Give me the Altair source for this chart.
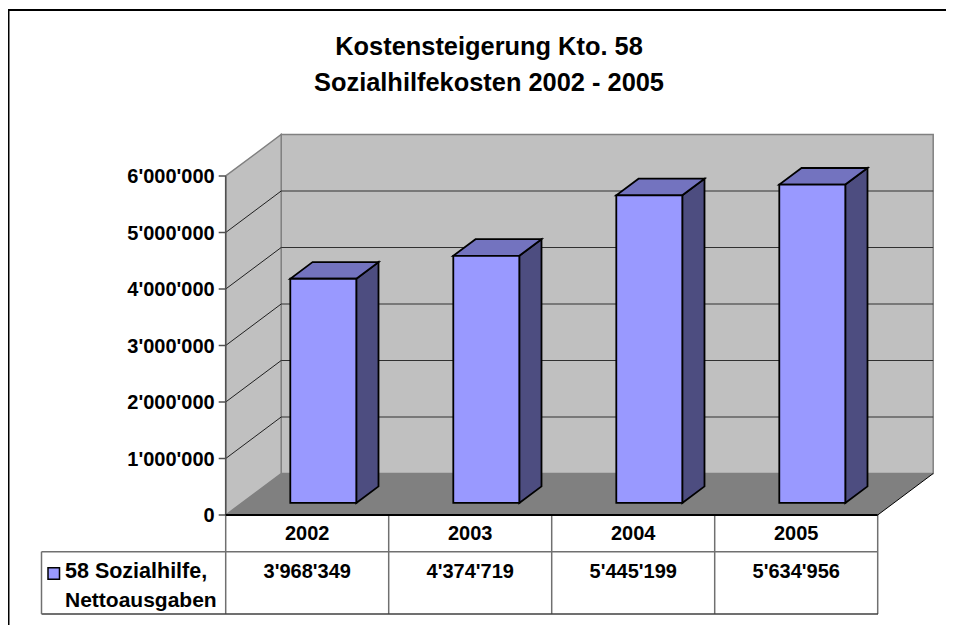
import altair as alt
import pandas as pd

YEARS = ["2002", "2003", "2004", "2005"]
VALUES = [3968349, 4374719, 5445199, 5634956]
VALUE_LABELS = ["3'968'349", "4'374'719", "5'445'199", "5'634'956"]
TICKS = [0, 1000000, 2000000, 3000000, 4000000, 5000000, 6000000]
TICK_LABELS = ["0", "1'000'000", "2'000'000", "3'000'000", "4'000'000", "5'000'000", "6'000'000"]
TITLE_LINES = ["Kostensteigerung Kto. 58", "Sozialhilfekosten 2002 - 2005"]
LEGEND_LINES = ["58 Sozialhilfe,", "Nettoausgaben"]

W, H = 938, 617
X0, CAT = 217.7, 163.0
Y0, MIL = 507.0, 56.5
DX = 55.5 / CAT
DY = 41.5 / MIL * 1e6
BAR_W = 66.0 / CAT
BAR_OFF = 0.29
BAR_D = 0.40
YMAX = TICKS[-1]
N = len(YEARS)

xs = alt.Scale(domain=[-X0 / CAT, (W - X0) / CAT], nice=False, zero=False)
ys = alt.Scale(domain=[(Y0 - H) / MIL * 1e6, Y0 / MIL * 1e6], nice=False, zero=False)
X = lambda f="x": alt.X(f"{f}:Q", scale=xs, axis=None)
Y = lambda f="y": alt.Y(f"{f}:Q", scale=ys, axis=None, stack=None)
XH = lambda f="x": alt.X(f"{f}:Q", scale=xs, axis=None, stack=None)
YH = lambda f="y": alt.Y(f"{f}:Q", scale=ys, axis=None)
px = lambda v: alt.value(v - 8)

FONT = "Liberation Sans"
WALL, FLOOR, EDGE = "#C0C0C0", "#808080", "#808080"
FRONT, TOP, SIDE = "#9999FF", "#7373BF", "#4D4D80"

# frame
frame = alt.Chart(pd.DataFrame({"k": [0]}))
frame_top = frame.mark_rule(color="black", strokeWidth=2).encode(x=px(8), x2=px(954), y=px(10))
frame_left = frame.mark_rule(color="black", strokeWidth=3).encode(x=alt.value(0), y=px(9), y2=px(625))

# walls and floor
back = alt.Chart(pd.DataFrame({"x": [DX], "x2": [N + DX], "y": [DY], "y2": [YMAX + DY]})).mark_rect(
    fill=WALL, stroke=EDGE, strokeWidth=1.5
).encode(x=X(), x2="x2:Q", y=Y(), y2="y2:Q")
left = alt.Chart(pd.DataFrame({"x": [0, DX], "y": [0, DY], "y2": [YMAX, YMAX + DY]})).mark_area(
    fill=WALL, stroke=EDGE, strokeWidth=1.5
).encode(x=X(), y=Y(), y2="y2:Q")
floor = alt.Chart(pd.DataFrame({"y": [0, DY], "x": [0, DX], "x2": [N, N + DX]})).mark_area(
    orient="horizontal", fill=FLOOR
).encode(y=YH(), x=XH(), x2="x2:Q")

grid_df = pd.DataFrame({"t": TICKS[1:-1]})
grid_df["y"] = grid_df["t"] + DY
grid_df["x"] = DX
grid_df["x2"] = N + DX
grid_back = alt.Chart(grid_df).mark_rule(color="#303030", strokeWidth=1).encode(x=X(), x2="x2:Q", y=Y())
diag_df = pd.DataFrame({"x": 0.0, "x2": DX, "y": TICKS[1:-1], "y2": [t + DY for t in TICKS[1:-1]]})
grid_left = alt.Chart(diag_df).mark_rule(color="#202020", strokeWidth=1).encode(x=X(), x2="x2:Q", y=Y(), y2="y2:Q")

floor_edge = alt.Chart(pd.DataFrame({"x": [N], "x2": [N + DX], "y": [0], "y2": [DY]})).mark_rule(
    color="black", strokeWidth=1
).encode(x=X(), x2="x2:Q", y=Y(), y2="y2:Q")
front_line = alt.Chart(pd.DataFrame({"x": [0], "x2": [N], "y": [0]})).mark_rule(
    color="black", strokeWidth=2
).encode(x=X(), x2="x2:Q", y=Y())

# axis
axis_line = alt.Chart(pd.DataFrame({"x": [0], "y": [0], "y2": [YMAX]})).mark_rule(
    color="#505050", strokeWidth=1.5
).encode(x=X(), y=Y(), y2="y2:Q")
tick_df = pd.DataFrame({"y": TICKS, "label": TICK_LABELS, "x": 0.0})
ticks = alt.Chart(tick_df).mark_rule(color="#505050", strokeWidth=1.5).encode(
    x=alt.value(X0 - 7), x2=alt.value(X0), y=Y()
)
tick_text = alt.Chart(tick_df).mark_text(
    font=FONT, fontWeight="bold", fontSize=20, align="right", baseline="middle", color="black", dy=1
).encode(x=alt.value(X0 - 11), y=Y(), text="label:N")

# bars
rows_f, rows_s, rows_t = [], [], []
for i, (yr, v) in enumerate(zip(YEARS, VALUES)):
    x0 = i + (1 - BAR_W) / 2 + BAR_OFF * DX
    x1 = x0 + BAR_W
    b = BAR_OFF * DY
    d_x, d_y = BAR_D * DX, BAR_D * DY
    rows_f.append({"year": yr, "x": x0, "x2": x1, "y": b, "y2": b + v})
    rows_s += [
        {"year": yr, "x": x1, "y": b, "y2": b + v},
        {"year": yr, "x": x1 + d_x, "y": b + d_y, "y2": b + v + d_y},
    ]
    rows_t += [
        {"year": yr, "y": b + v, "x": x0, "x2": x1},
        {"year": yr, "y": b + v + d_y, "x": x0 + d_x, "x2": x1 + d_x},
    ]
bar_side = alt.Chart(pd.DataFrame(rows_s)).mark_area(
    fill=SIDE, stroke="black", strokeWidth=1.8
).encode(x=X(), y=Y(), y2="y2:Q", detail="year:N")
bar_top = alt.Chart(pd.DataFrame(rows_t)).mark_area(
    orient="horizontal", fill=TOP, stroke="black", strokeWidth=1.8
).encode(y=YH(), x=XH(), x2="x2:Q", detail="year:N")
bar_front = alt.Chart(pd.DataFrame(rows_f)).mark_rect(
    fill=FRONT, stroke="black", strokeWidth=1.8
).encode(x=X(), x2="x2:Q", y=Y(), y2="y2:Q")

# data table
TBL = "#707070"
vlines = alt.Chart(pd.DataFrame({"x": list(range(N + 1))})).mark_rule(color=TBL, strokeWidth=1.5).encode(
    x=X(), y=px(515), y2=px(614)
)
hline1 = frame.mark_rule(color=TBL, strokeWidth=1.5).encode(x=px(41.5), x2=px(878), y=px(551.7))
hline2 = frame.mark_rule(color="#404040", strokeWidth=1.5).encode(x=px(41.5), x2=px(878), y=px(614))
vline0 = frame.mark_rule(color=TBL, strokeWidth=1.5).encode(x=px(41.5), y=px(551.7), y2=px(614))
cell_df = pd.DataFrame({"x": [i + 0.5 for i in range(N)], "year": YEARS, "val": VALUE_LABELS})
tstyle = dict(font=FONT, fontWeight="bold", fontSize=20, align="center", baseline="middle", color="black")
year_text = alt.Chart(cell_df).mark_text(**tstyle).encode(x=X(), y=px(534), text="year:N")
val_text = alt.Chart(cell_df).mark_text(**tstyle).encode(x=X(), y=px(571.5), text="val:N")
swatch = frame.mark_rect(fill=FRONT, stroke="black", strokeWidth=1.5).encode(
    x=px(48), x2=px(59.5), y=px(567.7), y2=px(579.3)
)
leg1 = alt.Chart(pd.DataFrame({"t": [LEGEND_LINES[0]]})).mark_text(
    font=FONT, fontWeight="bold", fontSize=21.5, align="left", baseline="middle", color="black"
).encode(x=px(65), y=px(572), text="t:N")
leg2 = alt.Chart(pd.DataFrame({"t": [LEGEND_LINES[1]]})).mark_text(
    font=FONT, fontWeight="bold", fontSize=21, align="left", baseline="middle", color="black"
).encode(x=px(65), y=px(600.5), text="t:N")

# title
t1 = alt.Chart(pd.DataFrame({"t": [TITLE_LINES[0]]})).mark_text(
    font=FONT, fontWeight="bold", fontSize=25.4, align="center", baseline="middle", color="black"
).encode(x=px(489), y=px(47), text="t:N")
t2 = alt.Chart(pd.DataFrame({"t": [TITLE_LINES[1]]})).mark_text(
    font=FONT, fontWeight="bold", fontSize=25.4, align="center", baseline="middle", color="black"
).encode(x=px(489), y=px(83), text="t:N")

chart = alt.layer(
    back, left, floor, grid_back, grid_left, floor_edge, axis_line, ticks, tick_text,
    bar_side, bar_top, bar_front,
    vlines, hline1, hline2, vline0, front_line, year_text, val_text, swatch, leg1, leg2,
    t1, t2, frame_top, frame_left,
).properties(
    width=W, height=H, padding=0, background="white",
    autosize=alt.AutoSizeParams(type="none"),
).configure_view(stroke=None)

chart.save("out.html", embed_options={"renderer": "svg", "actions": False})
